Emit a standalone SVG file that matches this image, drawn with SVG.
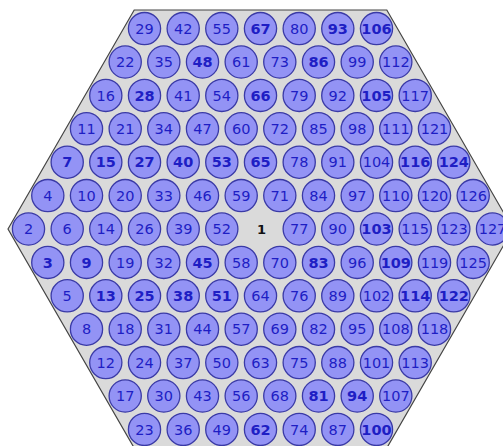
<svg xmlns="http://www.w3.org/2000/svg" width="503" height="446" viewBox="0 0 503 446">
<style>
.n circle{fill:#9393f5;stroke:#3a3aa6;stroke-width:1.3}
.n text{font-family:"DejaVu Sans",sans-serif;font-size:14.5px;fill:#1e1ec4;text-anchor:middle}
.b text{font-weight:bold}
.c text{font-family:"DejaVu Sans",sans-serif;font-size:13px;font-weight:bold;fill:#111;text-anchor:middle}
</style>
<rect width="503" height="446" fill="#ffffff"/>
<polygon id="hexagon" points="8,229 134.2,10 386.8,10 513,229 386.8,448 134.2,448" fill="#dadada" stroke="#444" stroke-width="1.2"/>
<g id="connectors"/>
<g id="nodes">
<g id="n29" class="n" transform="translate(144.5,28.6)"><circle r="16.1"/><text y="5.2">29</text></g>
<g id="n42" class="n" transform="translate(183.2,28.6)"><circle r="16.1"/><text y="5.2">42</text></g>
<g id="n55" class="n" transform="translate(221.8,28.6)"><circle r="16.1"/><text y="5.2">55</text></g>
<g id="n67" class="n b" transform="translate(260.5,28.6)"><circle r="16.1"/><text y="5.2">67</text></g>
<g id="n80" class="n" transform="translate(299.2,28.6)"><circle r="16.1"/><text y="5.2">80</text></g>
<g id="n93" class="n b" transform="translate(337.8,28.6)"><circle r="16.1"/><text y="5.2">93</text></g>
<g id="n106" class="n b" transform="translate(376.5,28.6)"><circle r="16.1"/><text y="5.2">106</text></g>

<g id="n22" class="n" transform="translate(125.2,62)"><circle r="16.1"/><text y="5.2">22</text></g>
<g id="n35" class="n" transform="translate(163.8,62)"><circle r="16.1"/><text y="5.2">35</text></g>
<g id="n48" class="n b" transform="translate(202.5,62)"><circle r="16.1"/><text y="5.2">48</text></g>
<g id="n61" class="n" transform="translate(241.2,62)"><circle r="16.1"/><text y="5.2">61</text></g>
<g id="n73" class="n" transform="translate(279.8,62)"><circle r="16.1"/><text y="5.2">73</text></g>
<g id="n86" class="n b" transform="translate(318.5,62)"><circle r="16.1"/><text y="5.2">86</text></g>
<g id="n99" class="n" transform="translate(357.2,62)"><circle r="16.1"/><text y="5.2">99</text></g>
<g id="n112" class="n" transform="translate(395.8,62)"><circle r="16.1"/><text y="5.2">112</text></g>

<g id="n16" class="n" transform="translate(105.8,95.4)"><circle r="16.1"/><text y="5.2">16</text></g>
<g id="n28" class="n b" transform="translate(144.5,95.4)"><circle r="16.1"/><text y="5.2">28</text></g>
<g id="n41" class="n" transform="translate(183.2,95.4)"><circle r="16.1"/><text y="5.2">41</text></g>
<g id="n54" class="n" transform="translate(221.8,95.4)"><circle r="16.1"/><text y="5.2">54</text></g>
<g id="n66" class="n b" transform="translate(260.5,95.4)"><circle r="16.1"/><text y="5.2">66</text></g>
<g id="n79" class="n" transform="translate(299.2,95.4)"><circle r="16.1"/><text y="5.2">79</text></g>
<g id="n92" class="n" transform="translate(337.8,95.4)"><circle r="16.1"/><text y="5.2">92</text></g>
<g id="n105" class="n b" transform="translate(376.5,95.4)"><circle r="16.1"/><text y="5.2">105</text></g>
<g id="n117" class="n" transform="translate(415.2,95.4)"><circle r="16.1"/><text y="5.2">117</text></g>

<g id="n11" class="n" transform="translate(86.5,128.8)"><circle r="16.1"/><text y="5.2">11</text></g>
<g id="n21" class="n" transform="translate(125.2,128.8)"><circle r="16.1"/><text y="5.2">21</text></g>
<g id="n34" class="n" transform="translate(163.8,128.8)"><circle r="16.1"/><text y="5.2">34</text></g>
<g id="n47" class="n" transform="translate(202.5,128.8)"><circle r="16.1"/><text y="5.2">47</text></g>
<g id="n60" class="n" transform="translate(241.2,128.8)"><circle r="16.1"/><text y="5.2">60</text></g>
<g id="n72" class="n" transform="translate(279.8,128.8)"><circle r="16.1"/><text y="5.2">72</text></g>
<g id="n85" class="n" transform="translate(318.5,128.8)"><circle r="16.1"/><text y="5.2">85</text></g>
<g id="n98" class="n" transform="translate(357.2,128.8)"><circle r="16.1"/><text y="5.2">98</text></g>
<g id="n111" class="n" transform="translate(395.8,128.8)"><circle r="16.1"/><text y="5.2">111</text></g>
<g id="n121" class="n" transform="translate(434.5,128.8)"><circle r="16.1"/><text y="5.2">121</text></g>

<g id="n7" class="n b" transform="translate(67.2,162.2)"><circle r="16.1"/><text y="5.2">7</text></g>
<g id="n15" class="n b" transform="translate(105.8,162.2)"><circle r="16.1"/><text y="5.2">15</text></g>
<g id="n27" class="n b" transform="translate(144.5,162.2)"><circle r="16.1"/><text y="5.2">27</text></g>
<g id="n40" class="n b" transform="translate(183.2,162.2)"><circle r="16.1"/><text y="5.2">40</text></g>
<g id="n53" class="n b" transform="translate(221.8,162.2)"><circle r="16.1"/><text y="5.2">53</text></g>
<g id="n65" class="n b" transform="translate(260.5,162.2)"><circle r="16.1"/><text y="5.2">65</text></g>
<g id="n78" class="n" transform="translate(299.2,162.2)"><circle r="16.1"/><text y="5.2">78</text></g>
<g id="n91" class="n" transform="translate(337.8,162.2)"><circle r="16.1"/><text y="5.2">91</text></g>
<g id="n104" class="n" transform="translate(376.5,162.2)"><circle r="16.1"/><text y="5.2">104</text></g>
<g id="n116" class="n b" transform="translate(415.2,162.2)"><circle r="16.1"/><text y="5.2">116</text></g>
<g id="n124" class="n b" transform="translate(453.8,162.2)"><circle r="16.1"/><text y="5.2">124</text></g>

<g id="n4" class="n" transform="translate(47.8,195.6)"><circle r="16.1"/><text y="5.2">4</text></g>
<g id="n10" class="n" transform="translate(86.5,195.6)"><circle r="16.1"/><text y="5.2">10</text></g>
<g id="n20" class="n" transform="translate(125.2,195.6)"><circle r="16.1"/><text y="5.2">20</text></g>
<g id="n33" class="n" transform="translate(163.8,195.6)"><circle r="16.1"/><text y="5.2">33</text></g>
<g id="n46" class="n" transform="translate(202.5,195.6)"><circle r="16.1"/><text y="5.2">46</text></g>
<g id="n59" class="n" transform="translate(241.2,195.6)"><circle r="16.1"/><text y="5.2">59</text></g>
<g id="n71" class="n" transform="translate(279.8,195.6)"><circle r="16.1"/><text y="5.2">71</text></g>
<g id="n84" class="n" transform="translate(318.5,195.6)"><circle r="16.1"/><text y="5.2">84</text></g>
<g id="n97" class="n" transform="translate(357.2,195.6)"><circle r="16.1"/><text y="5.2">97</text></g>
<g id="n110" class="n" transform="translate(395.8,195.6)"><circle r="16.1"/><text y="5.2">110</text></g>
<g id="n120" class="n" transform="translate(434.5,195.6)"><circle r="16.1"/><text y="5.2">120</text></g>
<g id="n126" class="n" transform="translate(473.2,195.6)"><circle r="16.1"/><text y="5.2">126</text></g>

<g id="n2" class="n" transform="translate(28.5,229)"><circle r="16.1"/><text y="5.2">2</text></g>
<g id="n6" class="n" transform="translate(67.2,229)"><circle r="16.1"/><text y="5.2">6</text></g>
<g id="n14" class="n" transform="translate(105.8,229)"><circle r="16.1"/><text y="5.2">14</text></g>
<g id="n26" class="n" transform="translate(144.5,229)"><circle r="16.1"/><text y="5.2">26</text></g>
<g id="n39" class="n" transform="translate(183.2,229)"><circle r="16.1"/><text y="5.2">39</text></g>
<g id="n52" class="n" transform="translate(221.8,229)"><circle r="16.1"/><text y="5.2">52</text></g>
<g id="n1" class="c" transform="translate(261.5,229)"><text y="5">1</text></g>
<g id="n77" class="n" transform="translate(299.2,229)"><circle r="16.1"/><text y="5.2">77</text></g>
<g id="n90" class="n" transform="translate(337.8,229)"><circle r="16.1"/><text y="5.2">90</text></g>
<g id="n103" class="n b" transform="translate(376.5,229)"><circle r="16.1"/><text y="5.2">103</text></g>
<g id="n115" class="n" transform="translate(415.2,229)"><circle r="16.1"/><text y="5.2">115</text></g>
<g id="n123" class="n" transform="translate(453.8,229)"><circle r="16.1"/><text y="5.2">123</text></g>
<g id="n127" class="n" transform="translate(492.5,229)"><circle r="16.1"/><text y="5.2">127</text></g>

<g id="n3" class="n b" transform="translate(47.8,262.4)"><circle r="16.1"/><text y="5.2">3</text></g>
<g id="n9" class="n b" transform="translate(86.5,262.4)"><circle r="16.1"/><text y="5.2">9</text></g>
<g id="n19" class="n" transform="translate(125.2,262.4)"><circle r="16.1"/><text y="5.2">19</text></g>
<g id="n32" class="n" transform="translate(163.8,262.4)"><circle r="16.1"/><text y="5.2">32</text></g>
<g id="n45" class="n b" transform="translate(202.5,262.4)"><circle r="16.1"/><text y="5.2">45</text></g>
<g id="n58" class="n" transform="translate(241.2,262.4)"><circle r="16.1"/><text y="5.2">58</text></g>
<g id="n70" class="n" transform="translate(279.8,262.4)"><circle r="16.1"/><text y="5.2">70</text></g>
<g id="n83" class="n b" transform="translate(318.5,262.4)"><circle r="16.1"/><text y="5.2">83</text></g>
<g id="n96" class="n" transform="translate(357.2,262.4)"><circle r="16.1"/><text y="5.2">96</text></g>
<g id="n109" class="n b" transform="translate(395.8,262.4)"><circle r="16.1"/><text y="5.2">109</text></g>
<g id="n119" class="n" transform="translate(434.5,262.4)"><circle r="16.1"/><text y="5.2">119</text></g>
<g id="n125" class="n" transform="translate(473.2,262.4)"><circle r="16.1"/><text y="5.2">125</text></g>

<g id="n5" class="n" transform="translate(67.2,295.8)"><circle r="16.1"/><text y="5.2">5</text></g>
<g id="n13" class="n b" transform="translate(105.8,295.8)"><circle r="16.1"/><text y="5.2">13</text></g>
<g id="n25" class="n b" transform="translate(144.5,295.8)"><circle r="16.1"/><text y="5.2">25</text></g>
<g id="n38" class="n b" transform="translate(183.2,295.8)"><circle r="16.1"/><text y="5.2">38</text></g>
<g id="n51" class="n b" transform="translate(221.8,295.8)"><circle r="16.1"/><text y="5.2">51</text></g>
<g id="n64" class="n" transform="translate(260.5,295.8)"><circle r="16.1"/><text y="5.2">64</text></g>
<g id="n76" class="n" transform="translate(299.2,295.8)"><circle r="16.1"/><text y="5.2">76</text></g>
<g id="n89" class="n" transform="translate(337.8,295.8)"><circle r="16.1"/><text y="5.2">89</text></g>
<g id="n102" class="n" transform="translate(376.5,295.8)"><circle r="16.1"/><text y="5.2">102</text></g>
<g id="n114" class="n b" transform="translate(415.2,295.8)"><circle r="16.1"/><text y="5.2">114</text></g>
<g id="n122" class="n b" transform="translate(453.8,295.8)"><circle r="16.1"/><text y="5.2">122</text></g>

<g id="n8" class="n" transform="translate(86.5,329.2)"><circle r="16.1"/><text y="5.2">8</text></g>
<g id="n18" class="n" transform="translate(125.2,329.2)"><circle r="16.1"/><text y="5.2">18</text></g>
<g id="n31" class="n" transform="translate(163.8,329.2)"><circle r="16.1"/><text y="5.2">31</text></g>
<g id="n44" class="n" transform="translate(202.5,329.2)"><circle r="16.1"/><text y="5.2">44</text></g>
<g id="n57" class="n" transform="translate(241.2,329.2)"><circle r="16.1"/><text y="5.2">57</text></g>
<g id="n69" class="n" transform="translate(279.8,329.2)"><circle r="16.1"/><text y="5.2">69</text></g>
<g id="n82" class="n" transform="translate(318.5,329.2)"><circle r="16.1"/><text y="5.2">82</text></g>
<g id="n95" class="n" transform="translate(357.2,329.2)"><circle r="16.1"/><text y="5.2">95</text></g>
<g id="n108" class="n" transform="translate(395.8,329.2)"><circle r="16.1"/><text y="5.2">108</text></g>
<g id="n118" class="n" transform="translate(434.5,329.2)"><circle r="16.1"/><text y="5.2">118</text></g>

<g id="n12" class="n" transform="translate(105.8,362.6)"><circle r="16.1"/><text y="5.2">12</text></g>
<g id="n24" class="n" transform="translate(144.5,362.6)"><circle r="16.1"/><text y="5.2">24</text></g>
<g id="n37" class="n" transform="translate(183.2,362.6)"><circle r="16.1"/><text y="5.2">37</text></g>
<g id="n50" class="n" transform="translate(221.8,362.6)"><circle r="16.1"/><text y="5.2">50</text></g>
<g id="n63" class="n" transform="translate(260.5,362.6)"><circle r="16.1"/><text y="5.2">63</text></g>
<g id="n75" class="n" transform="translate(299.2,362.6)"><circle r="16.1"/><text y="5.2">75</text></g>
<g id="n88" class="n" transform="translate(337.8,362.6)"><circle r="16.1"/><text y="5.2">88</text></g>
<g id="n101" class="n" transform="translate(376.5,362.6)"><circle r="16.1"/><text y="5.2">101</text></g>
<g id="n113" class="n" transform="translate(415.2,362.6)"><circle r="16.1"/><text y="5.2">113</text></g>

<g id="n17" class="n" transform="translate(125.2,396)"><circle r="16.1"/><text y="5.2">17</text></g>
<g id="n30" class="n" transform="translate(163.8,396)"><circle r="16.1"/><text y="5.2">30</text></g>
<g id="n43" class="n" transform="translate(202.5,396)"><circle r="16.1"/><text y="5.2">43</text></g>
<g id="n56" class="n" transform="translate(241.2,396)"><circle r="16.1"/><text y="5.2">56</text></g>
<g id="n68" class="n" transform="translate(279.8,396)"><circle r="16.1"/><text y="5.2">68</text></g>
<g id="n81" class="n b" transform="translate(318.5,396)"><circle r="16.1"/><text y="5.2">81</text></g>
<g id="n94" class="n b" transform="translate(357.2,396)"><circle r="16.1"/><text y="5.2">94</text></g>
<g id="n107" class="n" transform="translate(395.8,396)"><circle r="16.1"/><text y="5.2">107</text></g>

<g id="n23" class="n" transform="translate(144.5,429.4)"><circle r="16.1"/><text y="5.2">23</text></g>
<g id="n36" class="n" transform="translate(183.2,429.4)"><circle r="16.1"/><text y="5.2">36</text></g>
<g id="n49" class="n" transform="translate(221.8,429.4)"><circle r="16.1"/><text y="5.2">49</text></g>
<g id="n62" class="n b" transform="translate(260.5,429.4)"><circle r="16.1"/><text y="5.2">62</text></g>
<g id="n74" class="n" transform="translate(299.2,429.4)"><circle r="16.1"/><text y="5.2">74</text></g>
<g id="n87" class="n" transform="translate(337.8,429.4)"><circle r="16.1"/><text y="5.2">87</text></g>
<g id="n100" class="n b" transform="translate(376.5,429.4)"><circle r="16.1"/><text y="5.2">100</text></g>
</g>
</svg>
